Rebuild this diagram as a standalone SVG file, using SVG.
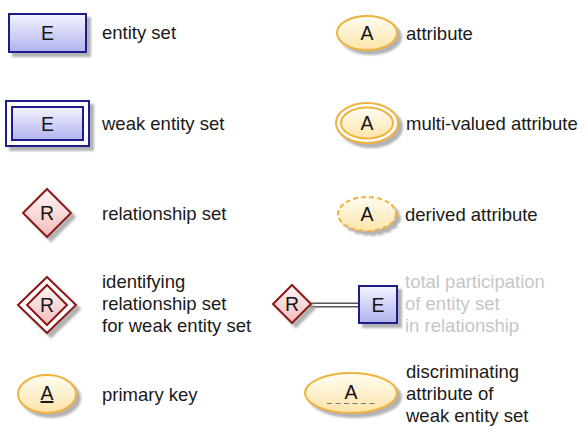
<svg xmlns="http://www.w3.org/2000/svg" width="587" height="437" viewBox="0 0 587 437">
<defs>
<linearGradient id="gE" x1="0" y1="0" x2="0" y2="1"><stop offset="0" stop-color="#f4f4ff"/><stop offset="1" stop-color="#b2b2ef"/></linearGradient>
<linearGradient id="gA" x1="0" y1="0" x2="0" y2="1"><stop offset="0" stop-color="#fffdf3"/><stop offset="1" stop-color="#fde4a8"/></linearGradient>
<linearGradient id="gR" x1="0" y1="0" x2="0" y2="1"><stop offset="0" stop-color="#fff6f6"/><stop offset="1" stop-color="#f4bcbc"/></linearGradient>
<filter id="sh" x="-20%" y="-20%" width="150%" height="160%">
<feGaussianBlur in="SourceAlpha" stdDeviation="1.3"/>
<feOffset dx="4" dy="4" result="o"/>
<feFlood flood-color="#999" flood-opacity="0.75"/>
<feComposite in2="o" operator="in" result="s"/>
<feMerge><feMergeNode in="s"/><feMergeNode in="SourceGraphic"/></feMerge>
</filter>
</defs>
<style>
.ent{fill:url(#gE);stroke:#1d1d8a;stroke-width:2}
.att{fill:url(#gA);stroke:#f0b13c;stroke-width:2}
.rel{fill:url(#gR);stroke:#8c1818;stroke-width:2}
.lbl{font-family:"Liberation Sans",Arial,sans-serif;font-size:19.5px;fill:#151515;text-anchor:middle}
.txt{font-family:"Liberation Sans",Arial,sans-serif;font-size:18.5px;fill:#1a1a1a}
.gry{fill:#c6c6c6}
</style>

<g id="entity">
<rect class="ent" x="9" y="14" width="77" height="38" filter="url(#sh)"/>
<text class="lbl" x="47.5" y="40">E</text>
<text class="txt" x="102" y="39">entity set</text>
</g>

<g id="weak-entity">
<g filter="url(#sh)">
<rect x="6" y="101" width="83" height="45" fill="#fff" stroke="#1d1d8a" stroke-width="2"/>
<rect class="ent" x="12" y="107" width="71" height="33"/>
</g>
<text class="lbl" x="47.5" y="130.5">E</text>
<text class="txt" x="102" y="130">weak entity set</text>
</g>

<g id="relationship">
<polygon class="rel" points="47,189 71,213 47,237 23,213" filter="url(#sh)"/>
<text class="lbl" x="47" y="220">R</text>
<text class="txt" x="102" y="220">relationship set</text>
</g>

<g id="identifying-relationship">
<g filter="url(#sh)">
<polygon points="47,277 76,305 47,333 18,305" fill="#fff" stroke="#8c1818" stroke-width="2"/>
<polygon class="rel" points="47,285 67,305 47,325 27,305"/>
</g>
<text class="lbl" x="47" y="312">R</text>
<text class="txt" x="102" y="288">identifying</text>
<text class="txt" x="102" y="310">relationship set</text>
<text class="txt" x="102" y="332">for weak entity set</text>
</g>

<g id="primary-key">
<ellipse class="att" cx="47" cy="394" rx="29" ry="19" filter="url(#sh)"/>
<text class="lbl" x="47" y="400" text-decoration="underline">A</text>
<text class="txt" x="102" y="401">primary key</text>
</g>

<g id="attribute">
<ellipse class="att" cx="367" cy="33" rx="30" ry="17" filter="url(#sh)"/>
<text class="lbl" x="367" y="40">A</text>
<text class="txt" x="406" y="40">attribute</text>
</g>

<g id="multi-valued-attribute">
<g filter="url(#sh)">
<ellipse cx="367" cy="123" rx="31" ry="20" fill="#fff" stroke="#f0b13c" stroke-width="2"/>
<ellipse class="att" cx="367" cy="123" rx="26" ry="15.5"/>
</g>
<text class="lbl" x="367" y="130">A</text>
<text class="txt" x="406" y="130">multi-valued attribute</text>
</g>

<g id="derived-attribute">
<ellipse class="att" cx="367" cy="214" rx="29" ry="17" stroke-dasharray="5 3" filter="url(#sh)"/>
<text class="lbl" x="367" y="221">A</text>
<text class="txt" x="405" y="221">derived attribute</text>
</g>

<g id="connectors">
<line x1="310" y1="305" x2="359" y2="305" stroke="#555" stroke-width="5"/>
<line x1="310" y1="305" x2="359" y2="305" stroke="#fff" stroke-width="2"/>
</g>

<g id="tp-relationship">
<polygon class="rel" points="292,285 311,304 292,323 273,304" filter="url(#sh)"/>
<text class="lbl" x="292" y="311">R</text>
</g>

<g id="tp-entity">
<rect class="ent" x="359" y="286" width="38" height="37" filter="url(#sh)"/>
<text class="lbl" x="378" y="311.5">E</text>
<text class="txt gry" x="405" y="288">total participation</text>
<text class="txt gry" x="405" y="310">of entity set</text>
<text class="txt gry" x="405" y="332">in relationship</text>
</g>

<g id="discriminating-attribute">
<ellipse class="att" cx="351" cy="393" rx="46" ry="20" filter="url(#sh)"/>
<text class="lbl" x="351" y="399">A</text>
<line x1="327" y1="403.5" x2="376" y2="403.5" stroke="#777" stroke-width="1" stroke-dasharray="5 3.5"/>
<text class="txt" x="406" y="378">discriminating</text>
<text class="txt" x="406" y="400">attribute of</text>
<text class="txt" x="406" y="422">weak entity set</text>
</g>
</svg>
